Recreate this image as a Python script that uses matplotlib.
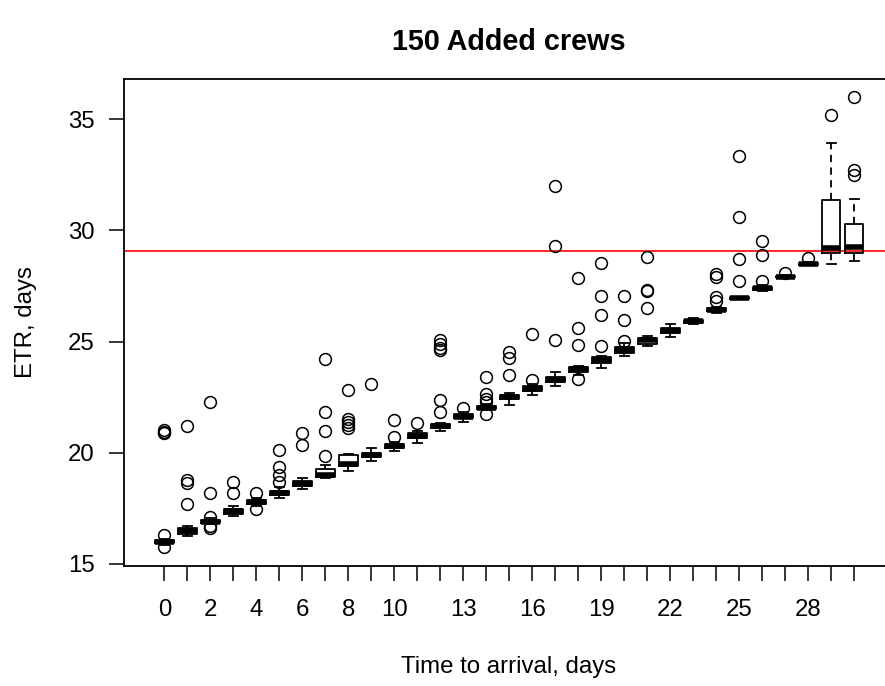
import matplotlib
matplotlib.use("Agg")
import matplotlib.pyplot as plt

plt.rcParams["font.family"] = ["Liberation Sans", "DejaVu Sans"]

# time to arrival (days), one box per day
days = list(range(31))
tick_labels = ["0", "", "2", "", "4", "", "6", "", "8", "", "10", "", "", "13", "", "",
               "16", "", "", "19", "", "", "22", "", "", "25", "", "", "28", "", ""]

whislo = [15.85, 16.26, 16.78, 17.14, 17.62, 17.95, 18.38, 18.85, 19.20, 19.62,
          20.10, 20.45, 21.00, 21.40, 21.90, 22.13, 22.61, 23.00, 23.50, 23.81,
          24.36, 24.78, 25.22, 25.78, 26.30, 26.90, 27.25, 27.85, 28.42, 28.47, 28.62]
q1 = [15.93, 16.36, 16.83, 17.24, 17.70, 18.10, 18.52, 18.92, 19.42, 19.80,
      20.20, 20.65, 21.12, 21.55, 21.95, 22.42, 22.76, 23.18, 23.65, 24.03,
      24.50, 24.90, 25.37, 25.83, 26.36, 26.92, 27.32, 27.88, 28.44, 28.96, 29.00]
med = [15.99, 16.47, 16.90, 17.36, 17.78, 18.20, 18.60, 19.02, 19.50, 19.89,
       20.29, 20.77, 21.22, 21.62, 22.01, 22.51, 22.88, 23.28, 23.76, 24.18,
       24.63, 25.05, 25.49, 25.91, 26.42, 26.95, 27.39, 27.92, 28.48, 29.19, 29.26]
q3 = [16.06, 16.60, 16.98, 17.48, 17.88, 18.30, 18.72, 19.25, 19.90, 20.00,
      20.40, 20.88, 21.30, 21.72, 22.10, 22.60, 22.98, 23.40, 23.85, 24.30,
      24.75, 25.15, 25.60, 25.98, 26.50, 26.99, 27.47, 27.96, 28.53, 31.36, 30.28]
whishi = [16.13, 16.73, 17.05, 17.60, 17.95, 18.44, 18.88, 19.47, 19.93, 20.20,
          20.50, 21.00, 21.36, 21.82, 22.20, 22.68, 23.09, 23.63, 23.92, 24.35,
          24.93, 25.26, 25.78, 26.05, 26.56, 27.02, 27.55, 28.00, 28.56, 33.92, 31.40]
outliers = [
    [21.02, 20.95, 20.90, 16.30, 15.75],
    [21.22, 18.77, 18.65, 17.68],
    [22.26, 18.21, 17.10, 16.70, 16.62],
    [18.68, 18.21],
    [18.17, 17.45],
    [20.14, 19.35, 19.02, 18.70],
    [20.90, 20.34],
    [24.23, 21.83, 20.96, 19.84],
    [22.82, 21.50, 21.38, 21.25, 21.12],
    [23.07],
    [21.46, 20.71],
    [21.34],
    [25.07, 24.90, 24.72, 24.60, 22.35, 21.83],
    [22.01],
    [23.42, 22.64, 22.40, 22.28, 21.75],
    [24.52, 24.25, 23.50],
    [25.34, 23.28],
    [32.00, 29.30, 25.09],
    [27.85, 25.63, 24.85, 23.33],
    [28.52, 27.06, 26.17, 24.78],
    [27.03, 25.97, 25.03],
    [28.78, 27.32, 27.25, 26.50],
    [],
    [],
    [28.05, 27.90, 26.99, 26.84],
    [33.34, 30.60, 28.70, 27.71],
    [29.50, 28.89, 27.74],
    [28.10],
    [28.74],
    [35.18],
    [35.99, 32.73, 32.48],
]
threshold = 29.05

stats = []
for i in range(len(days)):
    stats.append(dict(whislo=whislo[i], q1=q1[i], med=med[i], q3=q3[i],
                      whishi=whishi[i], fliers=outliers[i]))

W, H = 885, 686
fig = plt.figure(figsize=(W / 100, H / 100), dpi=100)
# plot region runs past the right edge of the image, as in the reference
x0, x1 = 123.7, 895.0
y0, y1 = 79.0, 566.0
ax = fig.add_axes([x0 / W, 1 - y1 / H, (x1 - x0) / W, (y1 - y0) / H])

ax.bxp(stats, positions=days, widths=0.8, capwidths=0.4,
       boxprops=dict(color="black", linewidth=1.3),
       whiskerprops=dict(color="black", linewidth=1.3, linestyle=(0, (4, 3))),
       capprops=dict(color="black", linewidth=1.3),
       medianprops=dict(color="black", linewidth=4),
       flierprops=dict(marker="o", markerfacecolor="none", markeredgecolor="black",
                       markersize=8.5, markeredgewidth=1.1, linestyle="none"))

ax.axhline(threshold, color="red", linewidth=1.2, zorder=0)

ax.set_xlim(-1.77, 31.77)
ax.set_ylim(14.91, 36.8)
ax.set_xticks(days)
ax.set_xticklabels(tick_labels)
ax.set_yticks([15, 20, 25, 30, 35])
ax.tick_params(axis="x", length=10.8, width=1.1, labelsize=17.3, pad=13)
ax.tick_params(axis="y", length=10.8, width=1.1, labelsize=17.3, pad=10)
for s in ax.spines.values():
    s.set_linewidth(1.3)
ax.spines["right"].set_visible(False)

fig.text(509 / W, 1 - 42 / H, "150 Added crews", ha="center", va="center",
         fontsize=20.7, fontweight="bold")
fig.text(509 / W, 1 - 667 / H, "Time to arrival, days", ha="center", va="center",
         fontsize=17.3)
fig.text(26 / W, 1 - 322 / H, "ETR, days", ha="center", va="center",
         rotation=90, fontsize=17.3)

fig.savefig("out.png", dpi=100, facecolor="white")
